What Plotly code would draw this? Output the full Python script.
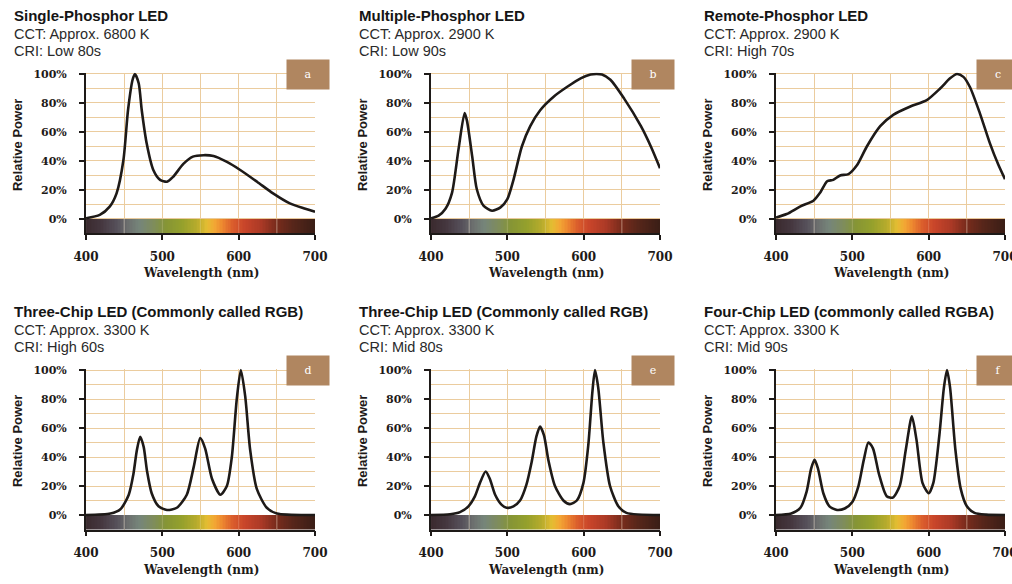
import plotly.graph_objects as go

# ---------------- data ----------------
wl_a = [400, 418, 431, 440, 449, 455, 461, 464, 469, 473, 479.5, 488, 497, 506, 514, 527.5, 540, 554, 567, 584, 602, 624, 645, 667, 685, 700]
pw_a = [0.5, 2.8, 8.5, 17.7, 40.7, 75, 96, 100, 93.6, 75, 52, 34, 27, 25.7, 29, 38, 43, 44, 43.4, 39.5, 33.8, 25.7, 17.7, 10.8, 7.4, 5]

wl_b = [400, 410, 419, 427.5, 436, 444, 447, 454, 460, 469, 480, 491, 500, 508, 519, 530, 543, 561, 578, 596, 609, 617, 624, 635, 653, 675, 688, 700]
pw_b = [0.5, 2.3, 7, 18, 48, 73, 68, 43, 20.5, 9, 5.7, 8, 13.7, 27, 50, 64, 75, 84.5, 91, 97, 99.6, 100, 99.6, 96, 83, 64, 50, 35]

wl_c = [400, 414, 432, 449, 458, 467, 475, 484, 495, 506, 519, 536.5, 554, 576, 597.5, 615, 628, 637, 645.5, 654, 667, 680, 691, 700]
pw_c = [1, 3.4, 8.7, 12.6, 18.3, 26, 27, 30, 31, 37, 50, 64, 72, 77.6, 82, 90, 97, 100, 98, 91, 73, 52.5, 37.7, 27.4]

wl_d = [400, 432, 445, 456, 462, 466.7, 471, 475.5, 480, 486, 495, 506, 519, 532, 541, 549.6, 556, 565, 576, 584.5, 591, 597.5, 602.8, 608.5, 615, 623.7, 636.8, 650, 700]
pw_d = [0, 1, 4, 14, 28, 45, 54, 47, 30, 15, 6, 3.5, 5, 14, 33, 53, 46, 25, 14, 20, 40, 80, 100, 82, 45, 18, 5, 1, 0]

wl_e = [400, 425, 438, 449, 457.6, 464, 471.6, 477, 484, 492.6, 499, 508, 516.6, 525, 532, 538, 542.8, 548, 553.7, 562.4, 573.4, 582, 591, 599.6, 606, 611.4, 614.8, 619, 625.8, 634.5, 645.4, 656, 700]
pw_e = [0, 0.5, 2, 6, 13, 22, 30, 25, 14, 7, 5, 6, 10, 21, 37, 54, 61, 55, 38, 20, 10, 7.5, 10, 22, 48, 85, 100, 88, 50, 20, 6, 1.5, 0]

wl_f = [400, 420, 432, 440, 446, 450.5, 455, 462, 470, 480, 490, 500, 508, 515, 521, 527, 535, 545, 553, 562, 570, 578, 584, 592, 600, 606, 614, 620, 624, 628, 635, 642, 650, 660, 675, 700]
pw_f = [0, 1, 5, 16, 32, 38, 32, 15, 6, 3.5, 4.5, 9, 20, 38, 50, 46, 28, 13, 12, 20, 45, 68, 52, 22, 15, 22, 55, 88, 100, 88, 45, 18, 6, 1.5, 0.3, 0]

panel_keys = ["a", "b", "c", "d", "e", "f"]
panel_titles = ["Single-Phosphor LED", "Multiple-Phosphor LED", "Remote-Phosphor LED",
                "Three-Chip LED (Commonly called RGB)", "Three-Chip LED (Commonly called RGB)",
                "Four-Chip LED (commonly called RGBA)"]
panel_cct = ["CCT: Approx. 6800 K", "CCT: Approx. 2900 K", "CCT: Approx. 2900 K",
             "CCT: Approx. 3300 K", "CCT: Approx. 3300 K", "CCT: Approx. 3300 K"]
panel_cri = ["CRI: Low 80s", "CRI: Low 90s", "CRI: High 70s",
             "CRI: High 60s", "CRI: Mid 80s", "CRI: Mid 90s"]
panel_wl = [wl_a, wl_b, wl_c, wl_d, wl_e, wl_f]
panel_pw = [pw_a, pw_b, pw_c, pw_d, pw_e, pw_f]

x_tickvals = [400, 500, 600, 700]
y_tickvals = [0, 20, 40, 60, 80, 100]
y_ticktext = ["0%", "20%", "40%", "60%", "80%", "100%"]

# spectrum colour strip
bar_stop_wl = [400, 420, 440, 455, 470, 490, 505, 525, 545, 558, 568, 578, 592, 608, 628, 648, 670, 700]
bar_stop_col = ["#3a2a2e", "#45373f", "#56505a", "#6c6f6e", "#76857a", "#7f8d58", "#869535", "#94a02c",
                "#b6ab2c", "#e4bd32", "#f2a834", "#ee8a30", "#da5c2c", "#c8452a", "#ad3a26", "#7c2c1c",
                "#58261a", "#3a1e16"]
grid_wl = [450, 500, 550, 600, 650]

# ---------------- layout ----------------
x_domains = [[0.0850, 0.3113], [0.4259, 0.6522], [0.7668, 0.9931]]
y_domains = [[0.6002, 0.8758], [0.0933, 0.3689]]
GRID = "#ebcc9e"
INK = "#1e1a18"

colorscale = [[(w - 400) / 300, c] for w, c in zip(bar_stop_wl, bar_stop_col)]
bar_edges = list(range(400, 701, 2))
bar_z = [[e + 1 for e in bar_edges[:-1]]]

fig = go.Figure()
annotations = []
shapes = []
layout_axes = {}

for i, key in enumerate(panel_keys):
    r, c = divmod(i, 3)
    n = "" if i == 0 else str(i + 1)
    xa, ya = "x" + n, "y" + n

    fig.add_trace(go.Heatmap(x=bar_edges, y=[-10, 0], z=bar_z, colorscale=colorscale,
                             zmin=400, zmax=700, showscale=False, hoverinfo="skip",
                             xaxis=xa, yaxis=ya))
    fig.add_trace(go.Scatter(x=panel_wl[i], y=panel_pw[i], mode="lines",
                             line=dict(color=INK, width=2.6, shape="spline", smoothing=0.7),
                             xaxis=xa, yaxis=ya, hoverinfo="skip"))

    layout_axes["xaxis" + n] = dict(
        domain=x_domains[c], anchor=ya, range=[400, 700], tickmode="array", tickvals=x_tickvals,
        ticks="outside", ticklen=5, tickwidth=2, tickcolor=INK,
        showline=True, linecolor=INK, linewidth=1.5,
        showgrid=True, gridcolor=GRID, gridwidth=1,
        minor=dict(tickmode="linear", tick0=400, dtick=50, showgrid=True, gridcolor=GRID, gridwidth=1, ticks=""),
        zeroline=False, ticklabelstandoff=6, automargin=False, ticklabeloverflow="allow",
        tickfont=dict(family="DejaVu Serif", size=12, color=INK, weight="bold"),
    )
    layout_axes["yaxis" + n] = dict(
        domain=y_domains[r], anchor=xa, range=[-10, 101], tickmode="array",
        tickvals=y_tickvals, ticktext=y_ticktext,
        ticks="outside", ticklen=5, tickwidth=2, tickcolor=INK,
        showline=True, linecolor=INK, linewidth=2,
        showgrid=True, gridcolor=GRID, gridwidth=1,
        minor=dict(tickmode="linear", tick0=0, dtick=10, showgrid=True, gridcolor=GRID, gridwidth=1, ticks=""),
        zeroline=False, ticklabelstandoff=10, automargin=False,
        tickfont=dict(family="DejaVu Serif", size=11, color=INK, weight="bold"),
    )

    # faint grid lines crossing the colour strip
    for g in grid_wl:
        shapes.append(dict(type="line", xref=xa, yref=ya, x0=g, x1=g, y0=-10, y1=0, layer="above",
                           line=dict(color="rgba(255,240,220,0.45)" if g in (450, 650) else "rgba(255,240,220,0.2)", width=1)))

    # title block
    dom_x, dom_y = xa + " domain", ya + " domain"
    annotations.append(dict(text=panel_titles[i], xref=dom_x, yref=dom_y, x=0, y=1, xshift=-74, yshift=57,
                            xanchor="left", yanchor="middle", showarrow=False,
                            font=dict(family="Liberation Sans", size=15, color="#151515", weight="bold")))
    annotations.append(dict(text=panel_cct[i], xref=dom_x, yref=dom_y, x=0, y=1, xshift=-74, yshift=39,
                            xanchor="left", yanchor="middle", showarrow=False,
                            font=dict(family="Liberation Sans", size=14.5, color="#2a2a2a")))
    annotations.append(dict(text=panel_cri[i], xref=dom_x, yref=dom_y, x=0, y=1, xshift=-74, yshift=21.5,
                            xanchor="left", yanchor="middle", showarrow=False,
                            font=dict(family="Liberation Sans", size=14.5, color="#2a2a2a")))
    # panel letter box
    annotations.append(dict(text=key, xref=dom_x, yref=dom_y, x=1, y=1, xshift=15, yshift=14,
                            xanchor="right", yanchor="top", width=42, height=29, borderpad=0,
                            bgcolor="#b08660", showarrow=False, align="center", valign="middle",
                            font=dict(family="DejaVu Serif", size=11, color="white")))
    # axis titles
    annotations.append(dict(text="Relative Power", xref=dom_x, yref=ya, x=0, y=51, xshift=-69,
                            xanchor="center", yanchor="middle", textangle=-90, showarrow=False,
                            font=dict(family="Liberation Sans Narrow, Liberation Sans", size=13, color=INK, weight="bold")))
    annotations.append(dict(text="Wavelength (nm)", xref=dom_x, yref=dom_y, x=0.5, y=0, yshift=-40,
                            xanchor="center", yanchor="middle", showarrow=False,
                            font=dict(family="DejaVu Serif", size=12, color=INK, weight="bold")))

fig.update_layout(
    width=1012, height=584, margin=dict(l=0, r=0, t=0, b=0, autoexpand=False),
    paper_bgcolor="white", plot_bgcolor="white", showlegend=False,
    annotations=annotations, shapes=shapes, **layout_axes,
)

fig.write_html("out.html")
